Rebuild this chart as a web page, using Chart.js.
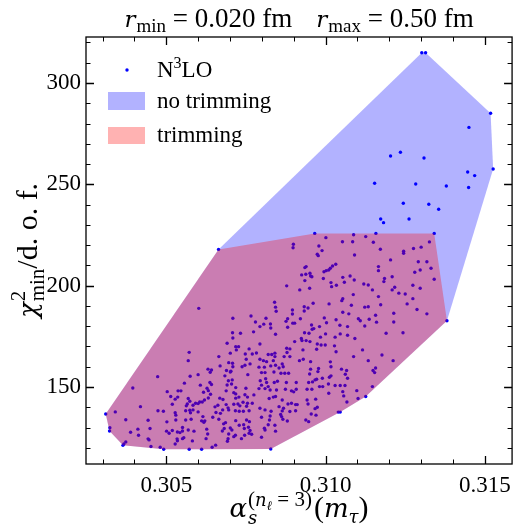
<!DOCTYPE html>
<html>
<head>
<meta charset="utf-8">
<script src="https://cdn.jsdelivr.net/npm/chart.js@4.4.1/dist/chart.umd.min.js"></script>
<style>
  html, body { margin: 0; padding: 0; background: #fff; }
</style>
</head>
<body>
<canvas id="chart" width="519" height="530"></canvas>
<script>
// N3LO fit results: alpha_s(m_tau) and chi2_min/dof
const alphaS = [
  0.30395,0.30340,0.30310,0.30419,0.30373,0.30323,0.30322,0.30411,0.30388,0.30413,0.30373,0.30367,0.30364,0.30449,
  0.30664,0.30602,0.30709,0.30766,0.30780,0.30708,0.30733,0.30709,0.30774,
  0.30691,0.30718,0.30727,0.30720,0.30760,0.30572,0.30701,0.30748,0.30770,0.30665,0.30783,0.30569,0.30696,0.30708,0.30751,0.30763,0.30669,0.30709,0.30738,0.30747,
  0.30631,0.30642,0.30638,0.30689,0.30701,0.30703,0.30473,0.30600,0.30575,0.30684,0.30756,0.30695,0.30707,0.30557,0.30607,0.30637,0.30642,0.30691,0.30705,0.30628,
  0.30632,0.30718,0.30750,0.30503,0.30537,0.30546,0.30639,0.30617,0.30712,0.30718,0.30688,0.30747,0.30775,0.30514,0.30536,0.30528,0.30569,0.30574,0.30632,0.30668,
  0.30678,0.30718,0.30728,0.30755,0.30519,0.30592,0.30620,0.30613,0.30605,0.30600,0.30566,0.30563,0.30584,0.30662,0.30653,0.30688,0.30694,0.30712,0.30725,0.30731,
  0.30741,0.30755,0.30752,0.30770,0.30474,0.30491,0.30528,0.30530,0.30561,0.30574,0.30584,0.30576,0.30600,0.30615,0.30646,0.30656,0.30670,0.30677,0.30696,0.30717,
  0.30729,0.30742,0.30760,0.30443,0.30502,0.30530,0.30561,0.30578,0.30611,0.30621,0.30618,0.30665,0.30686,0.30680,0.30718,0.30752,0.30761,0.30501,0.30509,0.30519,
  0.30535,0.30551,0.30551,0.30543,0.30569,0.30587,0.30627,0.30630,0.30676,0.30682,0.30701,0.30706,0.30696,0.30729,0.30743,0.30745,0.30758,0.30763,0.30717,0.30712,
  0.30736,0.30746,0.30760,0.30768,0.30443,0.30446,0.30534,0.30535,0.30551,0.30555,0.30582,0.30625,0.30694,0.30692,0.30528,0.30655,0.30644,0.30452,0.30481,0.30492,0.30572,0.30611,
  0.30966,0.31001,0.31088,0.31126,0.31053,0.31085,0.30899,0.30898,0.30979,0.30989,0.30974,0.30977,0.31091,0.30935,0.30939,0.30951,0.30953,0.30957,0.30925,0.30938,
  0.30995,0.31002,0.31010,0.31015,0.31022,0.31032,0.30935,0.30993,0.31017,0.31019,0.31034,0.31054,0.31077,0.31090,0.31059,0.31120,0.30878,0.30950,0.30919,0.31087,
  0.31054,0.31051,0.30840,0.30843,0.30845,0.30961,0.31011,0.31081,0.31123,0.30933,0.30945,0.30933,0.30896,0.30896,0.31054,0.31073,0.30813,0.30881,0.30876,0.30921,
  0.30996,0.31003,0.31033,0.31103,0.31109,0.30794,0.30806,0.30827,0.30828,0.30881,0.30897,0.30903,0.30956,0.30963,0.30958,0.30981,0.31045,0.31069,0.31123,0.30843,
  0.30924,0.30934,0.30948,0.30984,0.31000,0.31030,0.31046,0.31069,0.31092,
  0.30794,0.30903,0.30926,0.30939,0.30951,0.30974,0.30986,0.30999,0.31028,0.31033,0.30878,0.30888,0.30879,0.30929,0.30972,0.31116,0.30820,0.30831,0.30841,0.30841,
  0.30870,0.30888,0.30930,0.30918,0.30953,0.31088,0.30794,0.30805,0.30815,0.30836,0.30843,0.30864,0.30867,0.31015,0.31017,0.30791,0.30808,0.30828,0.30854,0.30953,
  0.30978,0.30976,0.31050,0.31066,0.30799,0.30810,0.30838,0.30860,0.30872,0.30884,0.30950,0.30990,0.31012,0.31017,0.31062,0.31069,0.30795,0.30812,0.30815,0.30839,
  0.30849,0.30877,0.30908,0.30947,0.30959,0.30967,0.30972,0.31009,0.31030,0.31046,0.31061,0.30799,0.30791,0.30810,0.30820,0.30826,0.30846,0.30874,0.30908,0.30942,
  0.30957,0.30981,0.30991,0.30893,0.30900,0.31054,0.31098,0.31010,0.30823,0.30836,0.30843,0.30864,0.30882,0.30893,0.30906,0.30911,0.30942,0.30945,0.30969,0.31057,
  0.31067,0.31102,0.31126,0.30794,0.30810,0.30829,0.30854,0.30868,0.30864,0.30888,0.30906,0.30967,0.30974,0.30955,0.31040,0.31046,0.30799,0.30826,0.30824,0.30862,
  0.30866,0.30859,0.30880,0.30938,0.30947,0.30970,0.30808,0.30810,0.30820,0.30841,0.30843,0.30799,0.30828,
  0.31158,0.31341,0.31150,0.31326,0.31245,0.31245,0.31276,0.31300,0.31172,0.31204,0.31291,0.31318,0.31166,0.31166,0.31331,0.31297,0.31280,0.31185,0.31209,0.31341,
  0.31302,0.31314,0.31518,0.31450,0.31204,0.31235,0.31309,0.31446,0.31468,0.31526,0.31154,0.31283,0.31379,0.31449,0.31244,0.31324,0.31355,0.31173,0.31182,0.31262,
  0.31183,0.31134,0.31147,0.31209,0.31217,0.31230,0.31250,0.31274,0.31297,0.31166,0.31274,0.31173,0.31256,0.31134,0.31287,0.31214,0.31318,0.31157,0.31137,0.31160,
  0.31214,0.31381,0.31190,0.31243,0.31177,0.31134,0.31212,0.31157,0.31149,0.31154,0.31147
];
const chi2 = [
  149.5,137.7,136.7,140.3,133.8,129.9,128.3,129.2,127.7,126.2,122.9,121.9,121.2,129.5,
  217.9,188.8,183.9,185.0,182.1,176.8,176.5,174.2,177.2,
  171.6,169.9,169.9,168.3,168.8,167.1,166.7,166.3,166.3,165.0,166.8,163.0,162.0,161.7,163.7,161.4,160.4,160.0,160.0,160.7,
  158.8,158.4,157.3,158.1,157.4,157.8,155.1,156.1,155.3,155.5,156.1,153.1,153.5,151.9,150.9,152.2,151.2,151.0,151.5,149.4,
  148.2,149.7,149.4,147.7,148.1,148.1,146.4,147.4,147.2,146.6,148.1,146.2,146.1,145.3,145.0,144.0,144.3,143.0,144.6,144.5,
  143.8,144.5,145.0,145.0,141.5,142.0,143.6,142.6,142.6,141.8,141.6,140.7,141.0,141.0,140.2,141.3,139.7,141.5,141.6,140.7,
  142.5,142.0,140.5,142.0,138.3,138.0,137.3,136.1,138.3,138.5,138.7,137.3,137.7,135.4,135.1,137.4,137.0,138.7,138.7,138.3,
  138.0,138.0,138.3,133.6,132.8,133.7,133.7,134.1,133.3,133.3,132.6,134.1,132.4,131.8,133.4,133.7,132.9,128.2,127.2,128.5,
  127.8,130.0,128.3,127.5,128.8,128.2,129.2,126.8,128.3,129.5,129.8,128.8,126.8,131.1,131.4,129.5,130.1,128.5,126.2,125.5,
  124.5,126.2,127.2,126.7,124.4,123.9,124.4,123.5,124.5,125.0,123.4,124.5,124.5,123.2,121.9,121.3,120.3,120.6,120.3,119.3,119.3,119.3,
  225.8,223.7,225.1,224.2,221.7,221.7,220.4,218.7,219.6,217.3,215.5,214.8,215.1,208.9,209.4,206.1,204.8,204.4,205.3,205.6,
  206.9,207.4,207.7,208.6,209.7,210.6,202.5,203.5,201.5,199.5,200.2,204.1,204.8,202.8,201.7,200.8,199.9,198.7,197.9,195.6,
  193.6,192.6,191.8,189.4,187.4,191.3,191.0,190.3,189.4,189.6,189.0,187.5,188.0,186.0,186.9,186.1,183.9,183.7,182.4,183.7,
  184.1,181.7,183.2,183.7,182.7,179.8,181.0,181.1,179.1,179.5,181.5,181.5,180.6,178.8,178.5,179.8,180.5,179.8,180.1,176.0,
  173.9,176.8,176.5,174.6,176.2,174.6,176.2,175.5,173.9,
  171.2,172.4,172.9,172.9,172.4,171.2,170.7,170.7,170.3,167.4,169.1,168.8,167.0,168.3,168.6,168.3,166.0,166.0,166.7,165.0,
  165.0,165.0,163.7,163.0,162.5,165.0,163.7,163.0,162.5,163.0,160.7,161.4,160.0,162.4,160.0,159.8,159.8,160.4,159.4,158.8,
  159.1,157.6,158.8,158.1,157.1,157.1,157.4,156.8,156.8,156.8,156.4,154.3,154.8,155.5,156.3,154.3,153.1,154.1,152.2,152.2,
  152.8,152.2,152.2,152.2,152.5,153.5,153.8,151.5,150.7,150.7,150.7,150.9,149.2,149.2,150.2,148.5,148.5,148.9,148.9,148.9,
  148.9,150.2,150.2,148.1,147.6,147.7,148.2,146.9,144.3,145.0,145.3,143.6,141.6,142.0,141.3,141.3,143.6,141.6,144.0,145.6,
  142.6,144.3,145.3,139.5,138.7,138.0,140.3,139.5,138.2,137.9,138.3,139.3,140.0,136.7,137.6,137.6,135.1,135.7,133.7,135.4,
  134.1,136.4,133.2,133.7,132.9,136.1,129.7,128.8,131.4,131.1,128.2,125.2,119.4,
  225.8,225.8,221.4,221.6,217.0,216.0,218.3,219.0,218.0,212.7,211.8,211.8,209.4,207.4,208.6,207.7,206.6,203.5,204.4,203.2,
  314.9,314.9,285.1,278.1,264.0,265.8,263.0,256.1,254.3,257.6,250.5,250.2,249.2,248.4,240.7,240.2,237.7,232.9,231.1,232.9,
  202.0,200.3,197.9,197.9,199.2,196.3,195.9,200.2,198.7,194.6,193.6,190.6,191.0,189.6,188.2,186.4,186.1,185.4,183.4,182.0,
  182.1,182.7,176.5,176.8,165.8,163.0,163.0,159.4,158.1,157.1,150.2
];
// fits kept after trimming have chi2/dof below this cut
const trimCut = 228;

const xTickMajor = [0.305, 0.310, 0.315];
const yTickMajor = [150, 200, 250, 300];
const xRange = [0.302481, 0.315854];
const yRange = [112.0, 322.7];

const SERIF = '"Liberation Serif", serif';
const SERIF_IT = '"DejaVu Serif", serif';   // Liberation Serif has no italic face here
const BLUE_FILL = 'rgba(0,0,255,0.3)';
const RED_FILL = 'rgba(255,0,0,0.3)';

const n = Math.min(alphaS.length, chi2.length);
const points = [];
for (let i = 0; i < n; i++) points.push({ x: alphaS[i], y: chi2[i] });

// convex hull (monotone chain), closed
function hull(pts) {
  const p = pts.slice().sort((a, b) => a.x - b.x || a.y - b.y);
  const cross = (o, a, b) => (a.x - o.x) * (b.y - o.y) - (a.y - o.y) * (b.x - o.x);
  const lo = [], up = [];
  for (const q of p) {
    while (lo.length >= 2 && cross(lo[lo.length - 2], lo[lo.length - 1], q) <= 0) lo.pop();
    lo.push(q);
  }
  for (let i = p.length - 1; i >= 0; i--) {
    const q = p[i];
    while (up.length >= 2 && cross(up[up.length - 2], up[up.length - 1], q) <= 0) up.pop();
    up.push(q);
  }
  up.pop(); lo.pop();
  const h = lo.concat(up);
  h.push(h[0]);
  return h;
}

const hullAll = hull(points);
const hullTrim = hull(points.filter(p => p.y < trimCut));

function font(p) {
  const s = p.s || 22;
  if (p.i) return 'italic ' + Math.round(s * 0.87) + 'px ' + SERIF_IT;
  return s + 'px ' + SERIF;
}

// draws a row of text pieces (sub/superscripts via dy)
function rich(ctx, parts, x, y, align) {
  let w = 0;
  for (const p of parts) {
    ctx.font = font(p);
    p.w = ctx.measureText(p.t).width;
    w += (p.adv != null ? p.adv : p.w) + (p.gap || 0);
  }
  let cx = align === 'center' ? x - w / 2 : x;
  ctx.textAlign = 'left';
  ctx.textBaseline = 'alphabetic';
  for (const p of parts) {
    ctx.font = font(p);
    ctx.fillText(p.t, cx, y + (p.dy || 0));
    cx += (p.adv != null ? p.adv : p.w) + (p.gap || 0);
  }
}

const decorations = {
  id: 'decorations',
  afterDraw(chart) {
    const { ctx, chartArea: a, scales: { x, y } } = chart;
    ctx.save();
    ctx.strokeStyle = '#000';
    ctx.fillStyle = '#000';

    // frame
    ctx.lineWidth = 1.3;
    ctx.strokeRect(a.left, a.top, a.right - a.left, a.bottom - a.top);

    // inward ticks on all four sides
    for (let k = 303; k <= 315; k++) {
      const px = Math.round(x.getPixelForValue(k / 1000)) + 0.5;
      const major = k % 5 === 0;
      const len = major ? 8 : 4.5;
      ctx.lineWidth = major ? 1.3 : 1;
      ctx.beginPath();
      ctx.moveTo(px, a.bottom); ctx.lineTo(px, a.bottom - len);
      ctx.moveTo(px, a.top); ctx.lineTo(px, a.top + len);
      ctx.stroke();
    }
    for (let k = 12; k <= 32; k++) {
      const py = Math.round(y.getPixelForValue(k * 10)) + 0.5;
      const major = k % 5 === 0;
      const len = major ? 8 : 4.5;
      ctx.lineWidth = major ? 1.3 : 1;
      ctx.beginPath();
      ctx.moveTo(a.left, py); ctx.lineTo(a.left + len, py);
      ctx.moveTo(a.right, py); ctx.lineTo(a.right - len, py);
      ctx.stroke();
    }

    const cxp = (a.left + a.right) / 2;
    const cyp = (a.top + a.bottom) / 2;

    // title
    rich(ctx, [
      { t: 'r', s: 27, i: true, gap: 1 }, { t: 'min', s: 19, dy: 5 }, { t: ' = 0.020 fm', s: 27 },
      { t: '', adv: 24 },
      { t: 'r', s: 27, i: true, gap: 1 }, { t: 'max', s: 19, dy: 5 }, { t: ' = 0.50 fm', s: 27 }
    ], cxp, 27, 'center');

    // x label
    rich(ctx, [
      { t: 'α', s: 30, i: true, gap: 1 }, { t: 's', s: 21, i: true, dy: 7, adv: 0 },
      { t: '(', s: 21, dy: -11 }, { t: 'n', s: 21, i: true, dy: -11 }, { t: 'ℓ', s: 15, i: true, dy: -7 },
      { t: ' = 3)', s: 21, dy: -11, gap: 2 },
      { t: '(', s: 30 }, { t: 'm', s: 30, i: true }, { t: 'τ', s: 21, i: true, dy: 6 }, { t: ')', s: 30 }
    ], cxp, 517, 'center');

    // y label
    ctx.save();
    ctx.translate(37, cyp);
    ctx.rotate(-Math.PI / 2);
    rich(ctx, [
      { t: 'χ', s: 30, i: true, gap: 1 }, { t: '2', s: 21, dy: -12, adv: 0 }, { t: 'min', s: 21, dy: 7 },
      { t: '/d. o. f.', s: 30 }
    ], 0, 0, 'center');
    ctx.restore();

    // legend
    ctx.fillStyle = 'blue';
    ctx.beginPath(); ctx.arc(127, 70, 1.7, 0, Math.PI * 2); ctx.fill();
    ctx.fillStyle = '#000';
    rich(ctx, [{ t: 'N', s: 23 }, { t: '3', s: 16, dy: -9 }, { t: 'LO', s: 23 }], 157, 77);
    ctx.fillStyle = BLUE_FILL;
    ctx.fillRect(108, 92, 37, 18);
    ctx.fillStyle = '#000';
    rich(ctx, [{ t: 'no trimming', s: 23 }], 157, 108);
    ctx.fillStyle = RED_FILL;
    ctx.fillRect(108, 127, 37, 17);
    ctx.fillStyle = '#000';
    rich(ctx, [{ t: 'trimming', s: 23 }], 157, 142);

    ctx.restore();
  }
};

new Chart(document.getElementById('chart'), {
  type: 'scatter',
  data: {
    datasets: [
      {
        label: 'N3LO',
        data: points,
        backgroundColor: 'blue',
        borderWidth: 0,
        pointRadius: 1.7,
        order: 3
      },
      {
        type: 'line',
        label: 'no trimming',
        data: hullAll,
        fill: 'shape',
        backgroundColor: BLUE_FILL,
        borderColor: 'rgba(0,0,0,0)',
        borderWidth: 0,
        pointRadius: 0,
        tension: 0,
        order: 2
      },
      {
        type: 'line',
        label: 'trimming',
        data: hullTrim,
        fill: 'shape',
        backgroundColor: RED_FILL,
        borderColor: 'rgba(0,0,0,0)',
        borderWidth: 0,
        pointRadius: 0,
        tension: 0,
        order: 1
      }
    ]
  },
  options: {
    responsive: false,
    devicePixelRatio: 1,
    animation: false,
    layout: { padding: { top: 37, right: 3, left: 0, bottom: 0 } },
    plugins: {
      legend: { display: false },
      title: { display: false },
      tooltip: { enabled: false }
    },
    scales: {
      x: {
        type: 'linear',
        min: xRange[0],
        max: xRange[1],
        afterFit: s => { s.height = 66; },
        grid: { display: false, drawTicks: false },
        border: { display: false },
        ticks: {
          stepSize: 0.005,
          includeBounds: false,
          maxRotation: 0,
          autoSkip: false,
          padding: 8,
          color: '#000',
          font: { family: SERIF, size: 23 },
          callback: v => xTickMajor.some(t => Math.abs(t - v) < 1e-6) ? v.toFixed(3) : ''
        }
      },
      y: {
        type: 'linear',
        min: yRange[0],
        max: yRange[1],
        afterFit: s => { s.width = 86; },
        grid: { display: false, drawTicks: false },
        border: { display: false },
        ticks: {
          stepSize: 50,
          includeBounds: false,
          padding: 5,
          color: '#000',
          font: { family: SERIF, size: 23 },
          callback: v => yTickMajor.includes(v) ? String(v) : ''
        }
      }
    }
  },
  plugins: [decorations]
});
</script>
</body>
</html>
